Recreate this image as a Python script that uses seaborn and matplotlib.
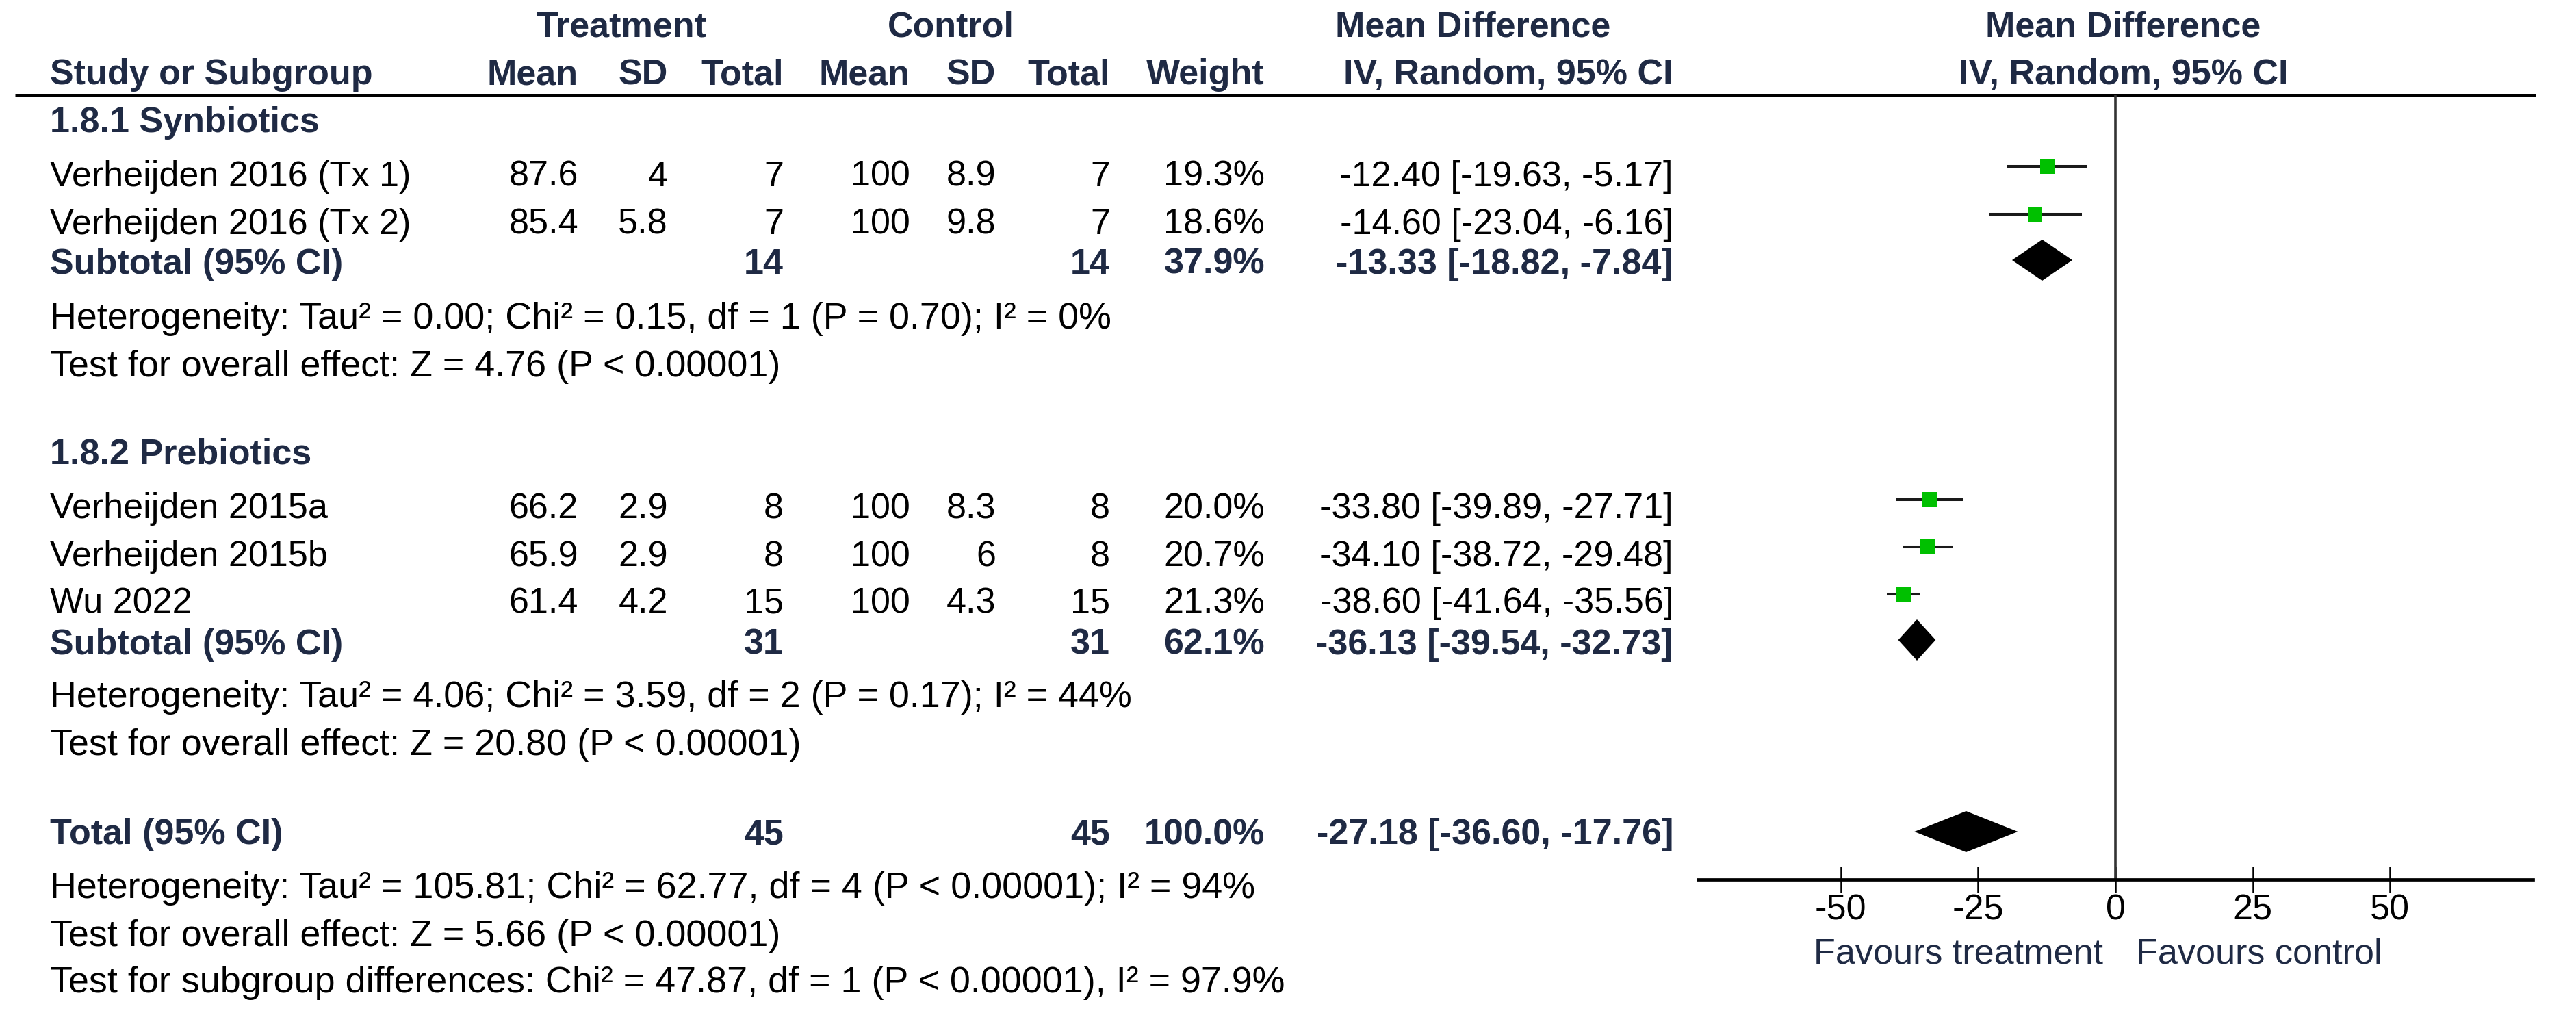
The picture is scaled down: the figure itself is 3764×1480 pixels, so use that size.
import matplotlib
matplotlib.use("Agg")
import matplotlib.pyplot as plt
import seaborn as sns
import pandas as pd

# ---------------- data ----------------
studies = ["Verheijden 2016 (Tx 1)", "Verheijden 2016 (Tx 2)",
           "Verheijden 2015a", "Verheijden 2015b", "Wu 2022"]
study_group = [0, 0, 1, 1, 1]
tx_mean = [87.6, 85.4, 66.2, 65.9, 61.4]
tx_sd = [4, 5.8, 2.9, 2.9, 4.2]
tx_n = [7, 7, 8, 8, 15]
ct_mean = [100, 100, 100, 100, 100]
ct_sd = [8.9, 9.8, 8.3, 6, 4.3]
ct_n = [7, 7, 8, 8, 15]
weight = [19.3, 18.6, 20.0, 20.7, 21.3]
md = [-12.40, -14.60, -33.80, -34.10, -38.60]
ci_lo = [-19.63, -23.04, -39.89, -38.72, -41.64]
ci_hi = [-5.17, -6.16, -27.71, -29.48, -35.56]

sub_names = ["1.8.1 Synbiotics", "1.8.2 Prebiotics"]
sub_tx_n = [14, 31]
sub_ct_n = [14, 31]
sub_weight = [37.9, 62.1]
sub_md = [-13.33, -36.13]
sub_lo = [-18.82, -39.54]
sub_hi = [-7.84, -32.73]
sub_het = ["Heterogeneity: Tau² = 0.00; Chi² = 0.15, df = 1 (P = 0.70); I² = 0%",
           "Heterogeneity: Tau² = 4.06; Chi² = 3.59, df = 2 (P = 0.17); I² = 44%"]
sub_test = ["Test for overall effect: Z = 4.76 (P < 0.00001)",
            "Test for overall effect: Z = 20.80 (P < 0.00001)"]

tot_tx_n = 45
tot_ct_n = 45
tot_weight = 100.0
tot_md = -27.18
tot_lo = -36.60
tot_hi = -17.76
tot_het = "Heterogeneity: Tau² = 105.81; Chi² = 62.77, df = 4 (P < 0.00001); I² = 94%"
tot_test = "Test for overall effect: Z = 5.66 (P < 0.00001)"
subgroup_test = "Test for subgroup differences: Chi² = 47.87, df = 1 (P < 0.00001), I² = 97.9%"

x_ticks = [-50, -25, 0, 25, 50]
x_limits = (-76, 76)
fav_left = "Favours treatment"
fav_right = "Favours control"

# ---------------- layout (pixels) ----------------
W, H = 3764, 1480
FS = 37.5
FS_NOTE = 38.8
HC = "#1f2a44"
GREEN = "#00C000"

# text baselines
study_base = [272, 342, 757, 827, 895]
study_mark = [243, 313, 730, 799, 868]
group_head_base = [193, 678]
sub_base = [400, 956]
sub_mark = [380, 935]
het_base = [480, 1033]
test_base = [550, 1103]
tot_base, tot_mark = 1233, 1215
tot_het_base, tot_test_base, subg_base = 1312, 1382, 1450
axis_y = 1285
rule_y = 139

# column right edges
c_name = 73
c_txm, c_txsd, c_txn = 845, 976, 1145
c_ctm, c_ctsd, c_ctn = 1330, 1455, 1622
c_w = 1848
c_ci = 2445

sns.set_theme(style="white")
plt.rcParams["font.family"] = ["Liberation Sans", "DejaVu Sans"]
plt.rcParams["axes.unicode_minus"] = False

fig = plt.figure(figsize=(W / 100, H / 100), dpi=100)
fig.patch.set_facecolor("white")

# text canvas axes in pixel units
ax_t = fig.add_axes([0, 0, 1, 1])
ax_t.set_xlim(0, W)
ax_t.set_ylim(H, 0)
ax_t.axis("off")


def txt(x, y, s, ha="left", bold=False, color="black", size=FS):
    ax_t.text(x, y, s, ha=ha, va="baseline", fontsize=size,
              fontweight="bold" if bold else "normal", color=color)


def fmt(v):
    return f"{v:g}"


# headers
txt(908, 53, "Treatment", ha="center", bold=True, color=HC)
txt(1389, 53, "Control", ha="center", bold=True, color=HC)
txt(2152, 53, "Mean Difference", ha="center", bold=True, color=HC)
txt(3102, 53, "Mean Difference", ha="center", bold=True, color=HC)
txt(c_name, 123, "Study or Subgroup", bold=True, color=HC)
for x, s in [(c_txm, "Mean"), (c_txsd, "SD"), (c_txn, "Total"),
             (c_ctm, "Mean"), (c_ctsd, "SD"), (c_ctn, "Total"), (c_w, "Weight"),
             (c_ci, "IV, Random, 95% CI")]:
    txt(x, 123, s, ha="right", bold=True, color=HC)
txt(3103, 123, "IV, Random, 95% CI", ha="center", bold=True, color=HC)
ax_t.hlines(rule_y, 22, 3705, color="black", lw=3.4)

# study rows
for i, name in enumerate(studies):
    b = study_base[i]
    txt(c_name, b, name)
    txt(c_txm, b, fmt(tx_mean[i]), ha="right")
    txt(c_txsd, b, fmt(tx_sd[i]), ha="right")
    txt(c_txn, b, fmt(tx_n[i]), ha="right")
    txt(c_ctm, b, fmt(ct_mean[i]), ha="right")
    txt(c_ctsd, b, fmt(ct_sd[i]), ha="right")
    txt(c_ctn, b, fmt(ct_n[i]), ha="right")
    txt(c_w, b, f"{weight[i]:.1f}%", ha="right")
    txt(c_ci, b, f"{md[i]:.2f} [{ci_lo[i]:.2f}, {ci_hi[i]:.2f}]", ha="right")

# subgroups
for g, name in enumerate(sub_names):
    txt(c_name, group_head_base[g], name, bold=True, color=HC)
    b = sub_base[g]
    txt(c_name, b, "Subtotal (95% CI)", bold=True, color=HC)
    txt(c_txn, b, fmt(sub_tx_n[g]), ha="right", bold=True, color=HC)
    txt(c_ctn, b, fmt(sub_ct_n[g]), ha="right", bold=True, color=HC)
    txt(c_w, b, f"{sub_weight[g]:.1f}%", ha="right", bold=True, color=HC)
    txt(c_ci, b, f"{sub_md[g]:.2f} [{sub_lo[g]:.2f}, {sub_hi[g]:.2f}]",
        ha="right", bold=True, color=HC)
    txt(c_name, het_base[g], sub_het[g], size=FS_NOTE)
    txt(c_name, test_base[g], sub_test[g], size=FS_NOTE)

# total
txt(c_name, tot_base, "Total (95% CI)", bold=True, color=HC)
txt(c_txn, tot_base, fmt(tot_tx_n), ha="right", bold=True, color=HC)
txt(c_ctn, tot_base, fmt(tot_ct_n), ha="right", bold=True, color=HC)
txt(c_w, tot_base, f"{tot_weight:.1f}%", ha="right", bold=True, color=HC)
txt(c_ci, tot_base, f"{tot_md:.2f} [{tot_lo:.2f}, {tot_hi:.2f}]",
    ha="right", bold=True, color=HC)
txt(c_name, tot_het_base, tot_het, size=FS_NOTE)
txt(c_name, tot_test_base, tot_test, size=FS_NOTE)
txt(c_name, subg_base, subgroup_test, size=FS_NOTE)

# ---------------- forest axes ----------------
left_px, right_px = 2481, 3701
ax_f = fig.add_axes([left_px / W, (H - axis_y) / H, (right_px - left_px) / W, axis_y / H])
ax_f.patch.set_alpha(0)
ax_f.set_xlim(*x_limits)
ax_f.set_ylim(axis_y, 0)
for sp in ["top", "left", "right"]:
    ax_f.spines[sp].set_visible(False)
ax_f.spines["bottom"].set_linewidth(3.4)
ax_f.spines["bottom"].set_color("black")
ax_f.set_yticks([])
ax_f.set_xticks(x_ticks)
ax_f.set_xticklabels([str(t) for t in x_ticks])
ax_f.tick_params(axis="x", direction="inout", length=27, width=1.8,
                 colors="black", labelsize=FS, pad=1, bottom=True)

# zero line
ax_f.vlines(0, rule_y, axis_y, color="#333333", lw=2.6, zorder=1)

df = pd.DataFrame({"md": md, "lo": ci_lo, "hi": ci_hi, "y": study_mark, "w": weight})
ax_f.hlines(df["y"], df["lo"], df["hi"], color="#1a1a1a", lw=2.9, zorder=2)
sns.scatterplot(data=df, x="md", y="y", size="w",
                sizes=(12.5 * min(weight), 12.5 * max(weight)),
                size_norm=(min(weight), max(weight)),
                marker="s", color=GREEN, edgecolor="none", linewidth=0,
                legend=False, ax=ax_f, zorder=3)
ax_f.set_xlabel("")
ax_f.set_ylabel("")
ax_f.set_ylim(axis_y, 0)
ax_f.set_xlim(*x_limits)

half_h = 30
for m, lo, hi, y in list(zip(sub_md, sub_lo, sub_hi, sub_mark)) + [(tot_md, tot_lo, tot_hi, tot_mark)]:
    ax_f.fill([lo, m, hi, m], [y, y - half_h, y, y + half_h], color="black", lw=0, zorder=3)

# favours labels
txt(3073, 1408, fav_left, ha="right", color=HC)
txt(3121, 1408, fav_right, ha="left", color=HC)

fig.savefig("out.png", dpi=100, facecolor="white")
